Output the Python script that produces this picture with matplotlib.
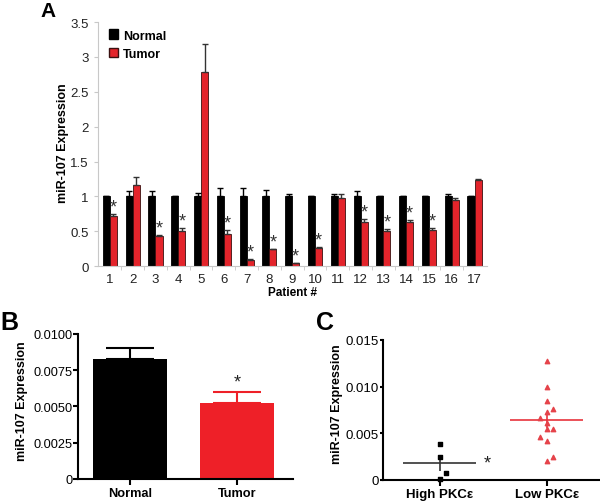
import matplotlib
matplotlib.use('Agg')
import matplotlib.pyplot as plt
from matplotlib.patches import Patch
import numpy as np

plt.rcParams['font.family'] = ['Liberation Sans', 'DejaVu Sans']

# panel A: per-patient expression (normal vs tumor)
patients = [1, 2, 3, 4, 5, 6, 7, 8, 9, 10, 11, 12, 13, 14, 15, 16, 17]
normal_mean = [1.0, 1.0, 1.0, 1.0, 1.0, 1.0, 1.0, 1.0, 1.0, 1.0, 1.0, 1.0, 1.0, 1.0, 1.0, 1.0, 1.0]
normal_err = [0.01, 0.07, 0.08, 0.01, 0.05, 0.12, 0.12, 0.09, 0.04, 0.01, 0.04, 0.07, 0.01, 0.01, 0.01, 0.04, 0.01]
tumor_mean = [0.72, 1.17, 0.43, 0.50, 2.78, 0.46, 0.09, 0.24, 0.04, 0.26, 0.98, 0.63, 0.50, 0.63, 0.52, 0.95, 1.23]
tumor_err = [0.03, 0.11, 0.01, 0.05, 0.40, 0.06, 0.015, 0.01, 0.005, 0.01, 0.06, 0.05, 0.035, 0.03, 0.02, 0.025, 0.015]
significant = [1, 3, 4, 6, 7, 8, 9, 10, 12, 13, 14, 15]

# panel B: pooled means
groups_b = ['Normal', 'Tumor']
mean_b = [0.00828, 0.00524]
err_b = [0.00075, 0.00075]

# panel C: individual samples by PKCe level
groups_c = ['High PKC\u03b5', 'Low PKC\u03b5']
high_pkc = [0.0038, 0.0025, 0.00075, 0.0001]
low_pkc = [0.0127, 0.0099, 0.00845, 0.0076, 0.0073, 0.0066, 0.0061,
           0.0055, 0.0055, 0.0046, 0.0042, 0.0025, 0.0020]

RED = '#e3242b'
GREY = '#c8c8c8'

fig = plt.figure(figsize=(6, 5.02), dpi=100)

# ---------------- A ----------------
ax = fig.add_axes([0.163, 0.468, 0.648, 0.486])
x = np.array(patients)
w = 0.31
ax.bar(x - w / 2, normal_mean, w, color='black', edgecolor='black', linewidth=0.6,
       yerr=[np.zeros(len(x)), normal_err], error_kw=dict(ecolor='black', capsize=2.5, lw=1), zorder=2)
ax.bar(x + w / 2, tumor_mean, w, color=RED, edgecolor='#3a1010', linewidth=0.6,
       yerr=[np.zeros(len(x)), tumor_err], error_kw=dict(ecolor='#333333', capsize=2.5, lw=1), zorder=2)
for p in significant:
    i = patients.index(p)
    ax.annotate('*', (p + w / 2, tumor_mean[i] + tumor_err[i]), xytext=(0, 5),
                textcoords='offset points', ha='center', va='center', fontsize=13, color='#333333')
ax.set_xlim(0.47, 17.53)
ax.set_ylim(0, 3.5)
ax.set_yticks([0, 0.5, 1, 1.5, 2, 2.5, 3, 3.5])
ax.set_yticklabels(['0', '0.5', '1', '1.5', '2', '2.5', '3', '3.5'])
ax.set_xticks(x)
ax.set_xticklabels([str(p) for p in patients])
ax.set_xticks(np.arange(1.5, 17.5, 1), minor=True)
ax.tick_params(axis='x', which='major', length=0, labelsize=9.5, pad=5, labelcolor='#222222')
ax.tick_params(axis='x', which='minor', length=3, color=GREY)
ax.tick_params(axis='y', length=3, color=GREY, labelsize=9.5, labelcolor='#222222')
for s in ['top', 'right']:
    ax.spines[s].set_visible(False)
for s in ['left', 'bottom']:
    ax.spines[s].set_color(GREY)
ax.set_xlabel('Patient #', fontsize=8.5, fontweight='bold', labelpad=1)
ax.set_ylabel('miR-107 Expression', fontsize=9, fontweight='bold')
ax.yaxis.set_label_coords(-0.075, 0.508)
handles = [Patch(facecolor='black', edgecolor='black', label='Normal'),
           Patch(facecolor=RED, edgecolor='#3a1010', label='Tumor')]
ax.legend(handles=handles, loc='upper left', bbox_to_anchor=(0.0, 1.016), frameon=False,
          handlelength=0.7, handleheight=0.8, handletextpad=0.4, labelspacing=0.5,
          prop=dict(size=9, weight='bold'))
fig.text(0.067, 0.978, 'A', fontsize=15, fontweight='bold', ha='left', va='center')

# ---------------- B ----------------
axb = fig.add_axes([0.130, 0.044, 0.358, 0.289])
colors_b = ['black', '#ee2028']
for i in range(len(groups_b)):
    axb.bar(i, mean_b[i], 0.69, color=colors_b[i],
            yerr=[[0], [err_b[i]]],
            error_kw=dict(ecolor=colors_b[i], capsize=17, lw=1.5, capthick=1.5))
axb.annotate('*', (1, mean_b[1] + err_b[1]), xytext=(0, 7), textcoords='offset points',
             ha='center', va='center', fontsize=13, color='#222222')
axb.set_xlim(-0.484, 1.516)
axb.set_ylim(0, 0.01)
axb.set_yticks([0, 0.0025, 0.005, 0.0075, 0.01])
axb.set_yticklabels(['0', '0.0025', '0.0050', '0.0075', '0.0100'])
axb.set_xticks(range(len(groups_b)))
axb.set_xticklabels(groups_b, fontweight='bold')
axb.set_ylabel('miR-107 Expression', fontsize=9, fontweight='bold')
axb.yaxis.set_label_coords(-0.233, 0.54)
for s in ['top', 'right']:
    axb.spines[s].set_visible(False)
for s in ['left', 'bottom']:
    axb.spines[s].set_linewidth(1.5)
axb.tick_params(axis='y', length=3.5, width=1.5, labelsize=9.2, pad=0.5)
axb.tick_params(axis='x', length=4, width=1.5, labelsize=9.2, pad=2)
fig.text(0.0, 0.357, 'B', fontsize=18, fontweight='bold', ha='left', va='center')

# ---------------- C ----------------
axc = fig.add_axes([0.638, 0.042, 0.362, 0.279])
high_off = [0, 0, 1, 0]
low_off = [0, 0, 0, 1, 0, -1, 0, 0, 1, -1, 0, 1, 0]
dx = 0.062
axc.scatter(0 + dx * np.array(high_off), high_pkc, marker='s', s=8, color='black', zorder=3, clip_on=False)
axc.scatter(1 + dx * np.array(low_off), low_pkc, marker='^', s=10, color='#e5434a', zorder=3, clip_on=False)
for i, (vals, col) in enumerate([(high_pkc, '#333333'), (low_pkc, '#e8343c')]):
    m = np.mean(vals)
    sem = np.std(vals, ddof=1) / np.sqrt(len(vals))
    axc.hlines(m, i - 0.34, i + 0.34, color=col, lw=1.2, zorder=2)
    axc.vlines(i, m - sem, m + sem, color=col, lw=1.2, zorder=2)
m_high = np.mean(high_pkc)
axc.text(0.41, m_high, '*', fontsize=13, ha='left', va='center', color='#222222')
axc.set_xlim(-0.533, 1.5)
axc.set_ylim(0, 0.015)
axc.set_yticks([0, 0.005, 0.01, 0.015])
axc.set_yticklabels(['0', '0.005', '0.010', '0.015'])
axc.set_xticks([0, 1])
axc.set_xticklabels(groups_c, fontweight='bold')
axc.set_ylabel('miR-107 Expression', fontsize=9, fontweight='bold')
axc.yaxis.set_label_coords(-0.184, 0.55)
for s in ['top', 'right']:
    axc.spines[s].set_visible(False)
for s in ['left', 'bottom']:
    axc.spines[s].set_linewidth(1.5)
axc.tick_params(axis='y', length=2.5, width=1.5, labelsize=9.5, pad=0.3)
axc.tick_params(axis='x', length=4, width=1.5, labelsize=9.5, pad=2)
fig.text(0.527, 0.357, 'C', fontsize=18, fontweight='bold', ha='left', va='center')

fig.savefig('out.png', dpi=100)
